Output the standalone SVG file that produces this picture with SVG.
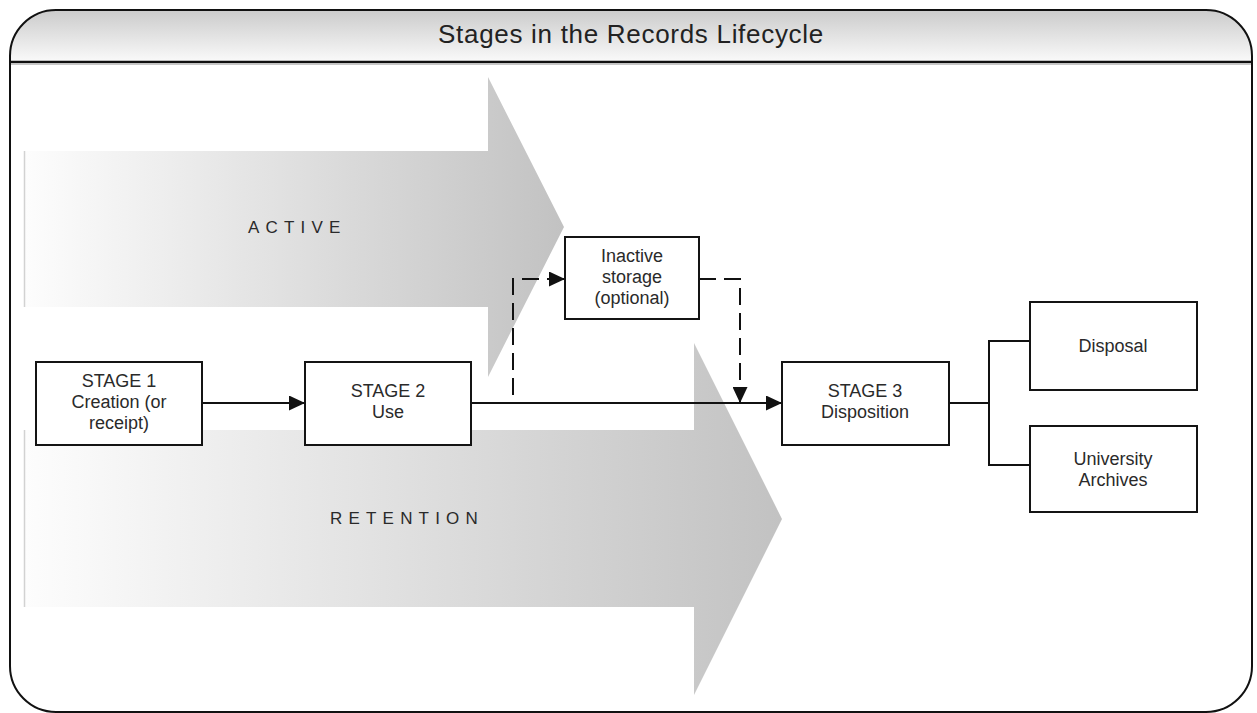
<svg xmlns="http://www.w3.org/2000/svg" width="1257" height="713" viewBox="0 0 1257 713">
<style>
.box{fill:#fff;stroke:#141414;stroke-width:2}
.lbl{font-family:"Liberation Sans",Arial,sans-serif;font-size:18px;fill:#2a2a2a;text-anchor:middle}
.big{font-family:"Liberation Sans",Arial,sans-serif;font-size:17px;fill:#2a2a2a;letter-spacing:6.2px}
.con{fill:none;stroke:#111;stroke-width:2}
.dash{fill:none;stroke:#111;stroke-width:2;stroke-dasharray:17 8}
</style>
<defs>
<linearGradient id="hdr" x1="0" y1="10" x2="0" y2="62" gradientUnits="userSpaceOnUse">
<stop offset="0" stop-color="#cbcbcb"/>
<stop offset="1" stop-color="#fafafa"/>
</linearGradient>
<linearGradient id="ga" x1="24" y1="0" x2="564" y2="0" gradientUnits="userSpaceOnUse">
<stop offset="0" stop-color="#fdfdfd"/>
<stop offset="1" stop-color="#c2c2c2"/>
</linearGradient>
<linearGradient id="gr" x1="24" y1="0" x2="782" y2="0" gradientUnits="userSpaceOnUse">
<stop offset="0" stop-color="#fdfdfd"/>
<stop offset="1" stop-color="#c2c2c2"/>
</linearGradient>
<marker id="ah" markerUnits="userSpaceOnUse" markerWidth="17" markerHeight="15" refX="16" refY="7.5" orient="auto" viewBox="0 0 17 15">
<path d="M0,0 L16,7.5 L0,15 Z" fill="#111" stroke="none"/>
</marker>
</defs>

<g id="frame">
<path d="M10,62 V56 A46,46 0 0 1 56,10 H1206 A46,46 0 0 1 1252,56 V62 Z" fill="url(#hdr)"/>
<path d="M56,10 H1206 A46,46 0 0 1 1252,56 V666 A46,46 0 0 1 1206,712 H56 A46,46 0 0 1 10,666 V56 A46,46 0 0 1 56,10 Z" fill="none" stroke="#111" stroke-width="2"/>
<line x1="10" y1="62" x2="1252" y2="62" stroke="#111" stroke-width="2.5"/>
<line x1="11" y1="64.5" x2="1251" y2="64.5" stroke="#c8c8c8" stroke-width="1"/>
<text x="631" y="43" font-family="Liberation Sans, Arial, sans-serif" font-size="26" fill="#222" text-anchor="middle" letter-spacing="0.7">Stages in the Records Lifecycle</text>
</g>

<g id="active">
<polygon points="24,151 488,151 488,77 564,227 488,377 488,307 24,307" fill="url(#ga)"/>
<line x1="24.5" y1="151" x2="24.5" y2="307" stroke="#d2d2d2" stroke-width="1.5"/>
<text class="big" x="248" y="233">ACTIVE</text>
</g>

<g id="retention">
<polygon points="24,430 694,430 694,343 782,519 694,695 694,607 24,607" fill="url(#gr)"/>
<line x1="24.5" y1="430" x2="24.5" y2="607" stroke="#d2d2d2" stroke-width="1.5"/>
<text class="big" x="330" y="524">RETENTION</text>
</g>

<g id="connectors">
<path class="con" d="M202,403 H305" marker-end="url(#ah)"/>
<path class="con" d="M471,403 H782" marker-end="url(#ah)"/>
<path class="dash" d="M513,395 V279 H565" marker-end="url(#ah)"/>
<path class="dash" d="M699,279 H740 V403" marker-end="url(#ah)"/>
<path class="con" d="M949,403 H989"/>
<path class="con" d="M1030,341 H989 V465 H1030"/>
</g>

<g id="stage1">
<rect class="box" x="36" y="362" width="166" height="83"/>
<text class="lbl" x="119" y="387">STAGE 1</text>
<text class="lbl" x="119" y="408">Creation (or</text>
<text class="lbl" x="119" y="429">receipt)</text>
</g>

<g id="stage2">
<rect class="box" x="305" y="362" width="166" height="83"/>
<text class="lbl" x="388" y="397">STAGE 2</text>
<text class="lbl" x="388" y="418">Use</text>
</g>

<g id="inactive">
<rect class="box" x="565" y="237" width="134" height="82"/>
<text class="lbl" x="632" y="262">Inactive</text>
<text class="lbl" x="632" y="283">storage</text>
<text class="lbl" x="632" y="304">(optional)</text>
</g>

<g id="stage3">
<rect class="box" x="782" y="362" width="167" height="83"/>
<text class="lbl" x="865" y="397">STAGE 3</text>
<text class="lbl" x="865" y="418">Disposition</text>
</g>

<g id="disposal">
<rect class="box" x="1030" y="302" width="167" height="88"/>
<text class="lbl" x="1113" y="352">Disposal</text>
</g>

<g id="archives">
<rect class="box" x="1030" y="426" width="167" height="86"/>
<text class="lbl" x="1113" y="465">University</text>
<text class="lbl" x="1113" y="486">Archives</text>
</g>
</svg>
